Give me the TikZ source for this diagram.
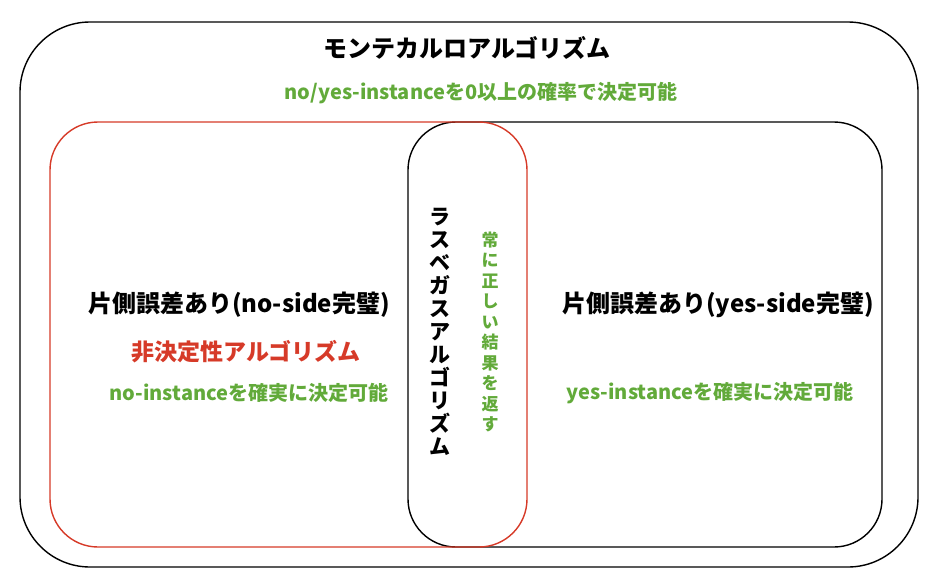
\documentclass[tikz,border=0pt]{standalone}
\usepackage{fontspec}
\setmainfont{Noto Sans CJK JP}
\usetikzlibrary{positioning}
\definecolor{okgreen}{RGB}{98,170,58}
\definecolor{ngred}{RGB}{214,58,40}
\tikzset{
  set/.style={ % style for the class boxes
    draw,line width=1.4pt, % outline of a class
  },
  title/.style={ % style for class names
    font=\fontsize{24}{28}\selectfont\bfseries,
  },
  note/.style={ % style for the green notes
    font=\fontsize{20}{24}\selectfont\bfseries,text=okgreen,
  },
  vtext/.style={ % style for vertical text
    align=center,inner sep=0pt,
  },
}
\begin{document}
\begin{tikzpicture}[x=1pt,y=-1pt]
  \useasboundingbox (0,0) rectangle (933,587);
  \draw[set,rounded corners=70] (20,22) rectangle (918,567);
  \draw[set,rounded corners=48] (408,122) rectangle (882,547);
  \draw[set,draw=ngred,rounded corners=48] (50,122) rectangle (527,547);
  \node[title] (mc) at (467,48) {モンテカルロアルゴリズム};
  \node[note] (mcn) at (481,93) {no/yes-instanceを0以上の確率で決定可能};
  \node[title] (no) at (239,305) {片側誤差あり(no-side完璧)};
  \node[title,font=\fontsize{23}{27}\selectfont\bfseries,text=ngred] (nd) at (246,352) {非決定性アルゴリズム};
  \node[note] (non) at (249,393) {no-instanceを確実に決定可能};
  \node[title] (yes) at (718,305) {片側誤差あり(yes-side完璧)};
  \node[note] (yesn) at (710,393) {yes-instanceを確実に決定可能};
  \node[title,vtext,font=\fontsize{21}{23}\selectfont\bfseries] (lv) at (440,332)
    {ラ\\ス\\ベ\\ガ\\ス\\ア\\ル\\ゴ\\リ\\ズ\\ム};
  \node[note,vtext,font=\fontsize{17}{20.5}\selectfont\bfseries] (lvn) at (490,332)
    {常\\に\\正\\し\\い\\結\\果\\を\\返\\す};
\end{tikzpicture}
\end{document}
